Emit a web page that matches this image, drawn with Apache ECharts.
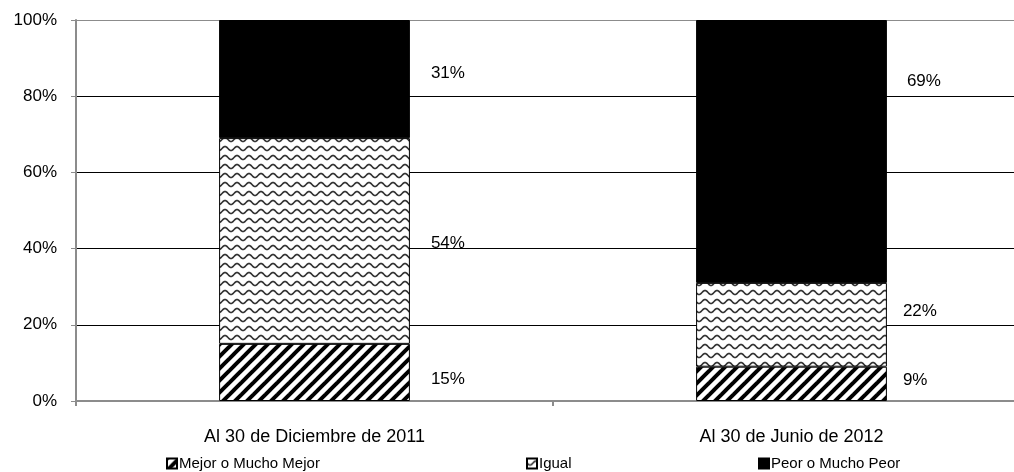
<!DOCTYPE html>
<html>
<head>
<meta charset="utf-8">
<script src="https://cdn.jsdelivr.net/npm/echarts@6/dist/echarts.min.js"></script>
<style>
  html, body { margin: 0; padding: 0; background: #fff; overflow: hidden; }
  #chart { width: 1030px; height: 472px; }
</style>
</head>
<body>
<div id="chart"></div>
<script>
const categories = ['Al 30 de Diciembre de 2011', 'Al 30 de Junio de 2012'];
const seriesNames = ['Mejor o Mucho Mejor', 'Igual', 'Peor o Mucho Peor'];
const mejor = [15, 9];
const igual = [54, 22];
const peor = [31, 69];
const yTicks = [0, 20, 40, 60, 80, 100];

const FONT = '"Liberation Sans", Arial, sans-serif';

// diagonal stripe fill
function stripes() {
  const c = document.createElement('canvas');
  c.width = 12; c.height = 12;
  const ctx = c.getContext('2d');
  ctx.fillStyle = '#fff';
  ctx.fillRect(0, 0, 12, 12);
  ctx.strokeStyle = '#000';
  ctx.lineWidth = 4;
  for (const k of [-12, 0, 12]) {
    ctx.beginPath();
    ctx.moveTo(k - 2, 14);
    ctx.lineTo(k + 14, -2);
    ctx.stroke();
  }
  return c;
}

// wavy line fill
function waves() {
  const c = document.createElement('canvas');
  c.width = 12; c.height = 9;
  const ctx = c.getContext('2d');
  ctx.fillStyle = '#fff';
  ctx.fillRect(0, 0, 12, 9);
  ctx.strokeStyle = '#333';
  ctx.lineWidth = 1.7;
  ctx.beginPath();
  for (let x = -1; x <= 13; x += 0.5) {
    const y = 4.5 + 2 * Math.sin((x / 12) * Math.PI * 2);
    if (x === -1) ctx.moveTo(x, y); else ctx.lineTo(x, y);
  }
  ctx.stroke();
  return c;
}

const fills = [
  { image: stripes(), repeat: 'repeat' },
  { image: waves(), repeat: 'repeat' },
  '#000'
];

// label nudges, as in the original figure
const labelOffsets = [
  [[21, 7], [16, -4]],
  [[21, 2], [16, -13]],
  [[21, -6], [20, -70]]
];

const values = [mejor, igual, peor];

const chart = echarts.init(document.getElementById('chart'));

chart.setOption({
  animation: false,
  backgroundColor: '#fff',
  grid: { left: 76, top: 20, right: 0, bottom: 71 },
  xAxis: {
    type: 'category',
    data: categories,
    axisLine: { lineStyle: { color: '#8c8c8c', width: 2 } },
    axisTick: { show: true, length: 5, lineStyle: { color: '#8c8c8c', width: 2 } },
    axisLabel: { color: '#000', fontFamily: FONT, fontSize: 18, margin: 27 }
  },
  yAxis: {
    type: 'value',
    min: 0,
    max: 100,
    interval: 20,
    axisLine: { show: true, lineStyle: { color: '#8c8c8c', width: 2 } },
    axisTick: { show: true, length: 5, lineStyle: { color: '#8c8c8c' } },
    axisLabel: {
      color: '#000', fontFamily: FONT, fontSize: 17, margin: 19,
      formatter: v => yTicks.includes(v) ? v + '%' : ''
    },
    splitLine: {
      show: true,
      lineStyle: { color: ['#8c8c8c', '#000', '#000', '#000', '#000', '#8c8c8c'], width: 1 }
    }
  },
  legend: seriesNames.map((name, i) => ({
    data: [name],
    left: [161, 521, 753][i],
    top: 451,
    icon: 'rect',
    itemWidth: 10,
    itemHeight: 10,
    itemGap: 3,
    textStyle: { color: '#000', fontFamily: FONT, fontSize: 15, padding: [0, 0, 0, -3] }
  })),
  series: seriesNames.map((name, i) => ({
    name: name,
    type: 'bar',
    stack: 'total',
    barWidth: '40%',
    itemStyle: { color: fills[i], borderColor: '#000', borderWidth: 1 },
    label: {
      show: true,
      position: 'right',
      distance: 0,
      color: '#000',
      fontFamily: FONT,
      fontSize: 17,
      formatter: '{c}%'
    },
    data: values[i].map((v, j) => ({
      value: v,
      label: { offset: labelOffsets[i][j] }
    }))
  }))
});
</script>
</body>
</html>
